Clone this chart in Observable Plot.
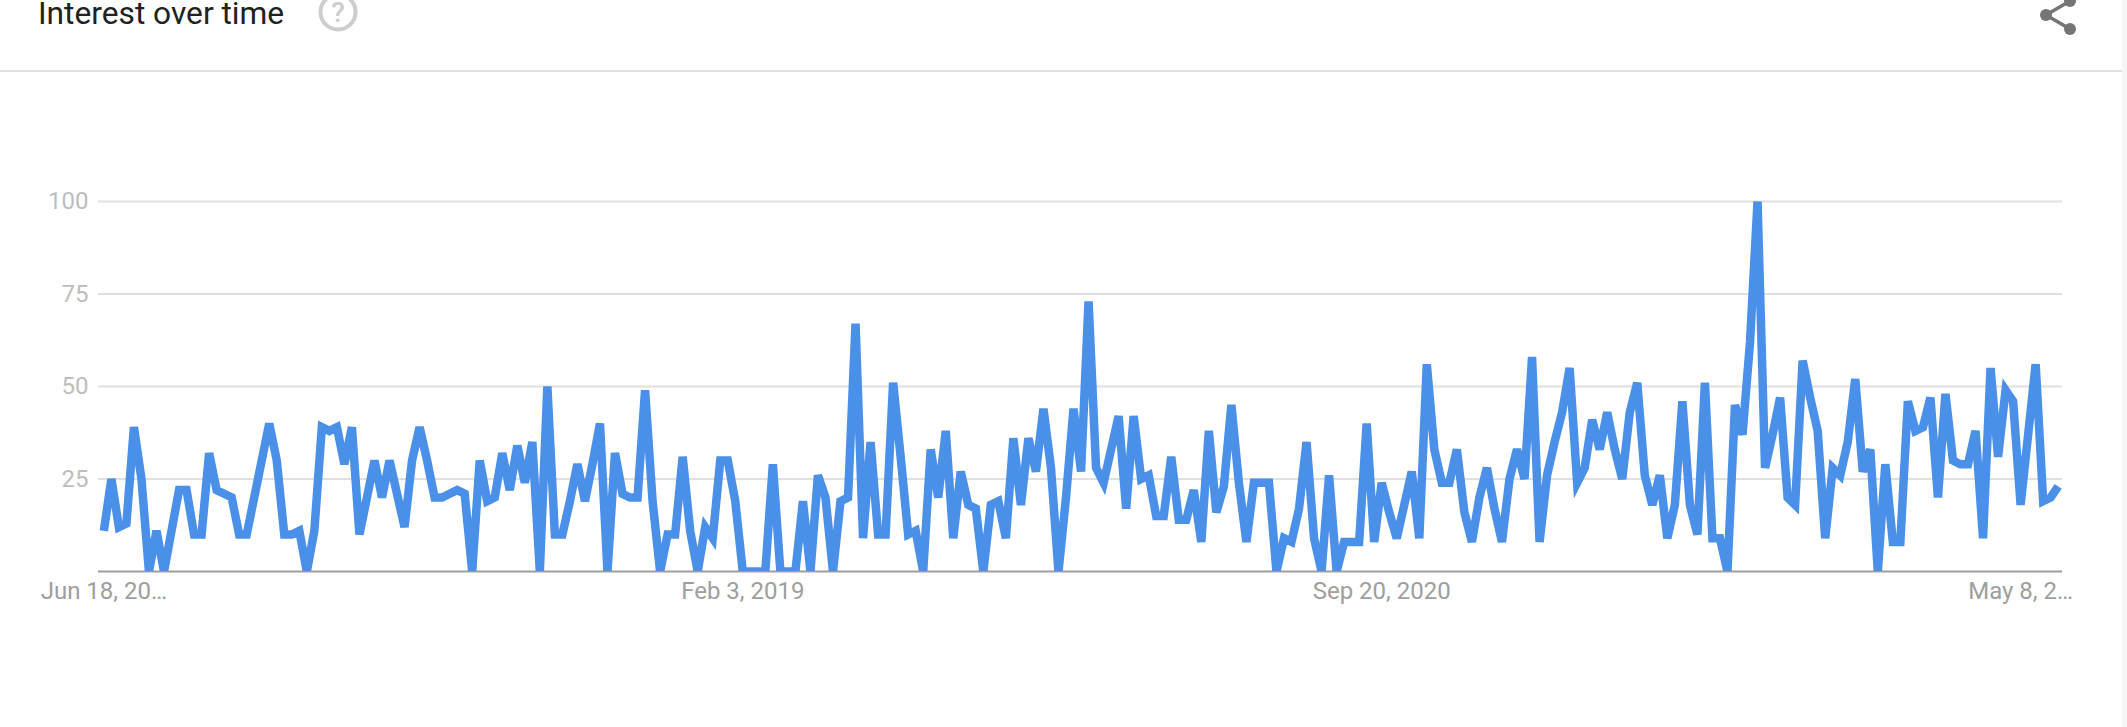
<!DOCTYPE html>
<html>
<head>
<meta charset="utf-8">
<script src="https://cdn.jsdelivr.net/npm/d3@7"></script>
<script src="https://cdn.jsdelivr.net/npm/@observablehq/plot@0.6"></script>
<style>
html,body{margin:0;padding:0;background:#fff;overflow:hidden}
#page{position:relative;width:2127px;height:727px;overflow:hidden}
#head{position:relative;height:70px;border-bottom:2px solid #e0e0e0;width:2122px;overflow:hidden}
#title{position:absolute;left:38px;top:-4px;font:400 31.7px/36px Roboto,sans-serif;color:#212121;white-space:nowrap}
#icons{position:absolute;left:0;top:0}
#strip{position:absolute;left:2122px;top:0;width:5px;height:727px;background:#f5f5f5}
#chart svg{display:block}
</style>
</head>
<body>
<div id="page">
  <div id="head">
    <div id="title">Interest over time</div>
    <svg id="icons" width="2122" height="70">
      <circle cx="338" cy="12" r="17.5" fill="none" stroke="#cdcdcd" stroke-width="4"/>
      <text x="338" y="22" text-anchor="middle" font-family="Roboto,sans-serif" font-weight="500" font-size="28" fill="#cdcdcd">?</text>
      <path d="M2070 1L2046 15L2070 29" fill="none" stroke="#757575" stroke-width="3.5"/>
      <circle cx="2046" cy="15" r="6" fill="#757575"/>
      <circle cx="2070" cy="29" r="6" fill="#757575"/>
      <circle cx="2070" cy="1" r="6" fill="#757575"/>
    </svg>
  </div>
  <div id="chart"></div>
  <div id="strip"></div>
</div>
<script>
const interest = [
11,25,12,13,39,25,0,11,0,11,22,22,10,10,32,22,21,20,10,10,
20,30,40,30,10,10,11,0,11,39,38,39,29,39,10,20,30,20,30,21,
12,30,39,30,20,20,21,22,21,0,30,19,20,32,22,34,24,35,0,50,
10,10,19,29,19,29,40,0,32,21,20,20,49,19,0,10,10,31,11,0,
12,9,30,30,19,0,0,0,0,29,0,0,0,19,0,26,20,0,19,20,
67,9,35,10,10,51,31,10,11,0,33,20,38,9,27,18,17,0,18,19,
9,36,18,36,27,44,28,0,20,44,27,73,28,24,33,42,17,42,25,26,
15,15,31,14,14,22,8,38,16,23,45,24,8,24,24,24,0,9,8,17,
35,9,0,26,0,8,8,8,40,8,24,16,9,18,27,9,56,33,24,24,
33,16,8,20,28,17,8,25,33,25,58,8,26,35,43,55,24,28,41,33,
43,33,25,43,51,26,18,26,9,18,46,18,10,51,9,9,0,45,37,62,
100,28,37,47,20,18,57,47,38,9,28,26,35,52,27,33,0,29,8,8,
46,38,39,47,20,48,30,29,29,38,9,55,31,49,46,18,37,56,19,20,
23
];
const startDate = new Date(Date.UTC(2017, 5, 18));
const weeks = interest.map((_, i) => d3.utcWeek.offset(startDate, i));
const yTicks = [25, 50, 75, 100];
const xTickDates = [new Date(Date.UTC(2017,5,18)), new Date(Date.UTC(2019,1,3)), new Date(Date.UTC(2020,8,20)), new Date(Date.UTC(2022,4,8))];
const xTickLabels = ["Jun 18, 20…", "Feb 3, 2019", "Sep 20, 2020", "May 8, 2…"];

const series = interest.map((v, i) => ({date: weeks[i], value: v}));
const font = "Roboto, sans-serif";

const plot = Plot.plot({
  width: 2127,
  height: 655,
  marginTop: 129,
  marginBottom: 156,
  marginLeft: 98,
  marginRight: 65,
  style: {background: "transparent", fontFamily: font},
  x: {type: "utc", domain: [d3.utcDay.offset(weeks[0], -5), d3.utcDay.offset(weeks[weeks.length - 1], 4)]},
  y: {domain: [0, 100]},
  marks: [
    Plot.ruleY(yTicks, {stroke: "#e0e0e0", strokeWidth: 2, strokeOpacity: 1}),
    Plot.ruleY([0], {stroke: "#9e9e9e", strokeWidth: 2, strokeOpacity: 1}),
    Plot.line(series, {
      x: "date", y: "value", stroke: "#4a90e8", strokeWidth: 8.5,
      strokeLinejoin: "miter", strokeMiterlimit: 4, strokeLinecap: "butt",
      curve: "linear", clip: true
    }),
    Plot.axisY({ticks: yTicks, tickSize: 0, tickPadding: 10, fontSize: 24, color: "#bdbdbd", label: null, tickFormat: d => String(d)}),
    Plot.axisX({ticks: xTickDates, tickSize: 0, tickPadding: 10, fontSize: 24, color: "#9e9e9e", label: null,
      tickFormat: d => xTickLabels[xTickDates.findIndex(t => +t === +d)]})
  ]
});
document.getElementById("chart").appendChild(plot);
</script>
</body>
</html>
